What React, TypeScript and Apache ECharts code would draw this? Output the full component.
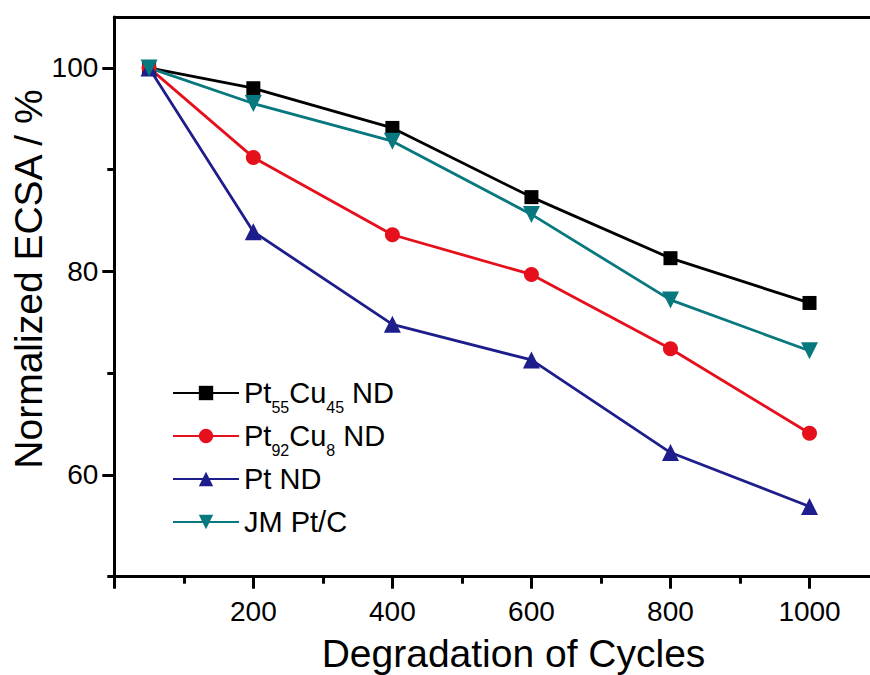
import React, { useEffect, useRef } from 'react';
import * as echarts from 'echarts';

const cycles = [50, 200, 400, 600, 800, 1000];
const pt55Cu45 = [100, 98.0, 94.1, 87.3, 81.3, 76.9];
const pt92Cu8 = [100, 91.2, 83.6, 79.7, 72.4, 64.1];
const ptND = [100, 83.9, 74.8, 71.3, 62.2, 56.9];
const jmPtC = [100, 96.5, 92.8, 85.6, 77.2, 72.2];

const seriesNames = ['Pt55Cu45 ND', 'Pt92Cu8 ND', 'Pt ND', 'JM Pt/C'];
const legendLabels = ['Pt{s|55}Cu{s|45} ND', 'Pt{s|92}Cu{s|8} ND', 'Pt ND{s| }', 'JM Pt/C{s| }'];

const xMajorTicks = [0, 200, 400, 600, 800, 1000];
const xLabels = [200, 400, 600, 800, 1000];
const xMinorTicks = [100, 300, 500, 700, 900];
const yMajorTicks = [60, 80, 100];
const yLabels = [60, 80, 100];
const yMinorTicks = [50, 70, 90];

const xTitle = 'Degradation of Cycles';
const yTitle = 'Normalized ECSA / %';

const FONT = '"Liberation Sans", Arial, Helvetica, sans-serif';

export default function App() {
  const ref = useRef<HTMLDivElement>(null);
  useEffect(() => {
    document.body.style.margin = '0';
    if (!ref.current) return;
    const chart = echarts.init(ref.current, undefined, { renderer: 'svg' });
    const pair = (ys: number[]) => cycles.map((x, i) => [x, ys[i]]);
    const mk = (name: string, ys: number[], color: string, symbol: string, size: number, rotate = 0) => ({
      name,
      type: 'line',
      data: pair(ys),
      symbol,
      symbolSize: size,
      symbolRotate: rotate,
      showAllSymbol: true,
      lineStyle: { color, width: 2.8 },
      itemStyle: { color, borderWidth: 0 },
      emphasis: { disabled: true },
      z: 3,
    });
    const axisTickStyle = { color: '#000', width: 3 };
    const numFmt = (v: number) => String(v);
    chart.setOption({
      animation: false,
      backgroundColor: '#fff',
      textStyle: { fontFamily: FONT },
      grid: {
        left: 114.3,
        top: 17,
        right: 0,
        bottom: 98.3,
        show: false,
        containLabel: false,
      },
      legend: {
        orient: 'vertical',
        left: 172,
        top: 371,
        padding: 0,
        itemWidth: 66,
        itemHeight: 18,
        itemGap: -1,
        data: seriesNames,
        formatter: (name: string) => legendLabels[seriesNames.indexOf(name)],
        textStyle: {
          fontFamily: FONT,
          fontSize: 29,
          color: '#000',
          lineHeight: 30,
          rich: {
            s: { fontFamily: FONT, fontSize: 16, color: '#000', lineHeight: 10, padding: [28, 0, 0, 0] },
          },
        },
      },
      xAxis: [
        {
          type: 'value',
          min: 0,
          max: 1087,
          position: 'bottom',
          axisLine: { show: true, lineStyle: { color: '#000', width: 3 } },
          axisTick: { show: true, inside: false, length: 12, lineStyle: axisTickStyle, customValues: xMajorTicks },
          axisLabel: { show: true, customValues: xLabels, formatter: numFmt, fontSize: 28, color: '#000', fontFamily: FONT, margin: 21 },
          splitLine: { show: false },
        },
        {
          type: 'value',
          min: 0,
          max: 1087,
          position: 'bottom',
          axisLine: { show: false },
          axisTick: { show: true, inside: false, length: 7, lineStyle: axisTickStyle, customValues: xMinorTicks },
          axisLabel: { show: false },
          splitLine: { show: false },
        },
        {
          type: 'value',
          min: 0,
          max: 1087,
          position: 'top',
          axisLine: { show: true, lineStyle: { color: '#000', width: 3 } },
          axisTick: { show: false },
          axisLabel: { show: false },
          splitLine: { show: false },
        },
      ],
      yAxis: [
        {
          type: 'value',
          min: 50,
          max: 105,
          position: 'left',
          axisLine: { show: true, lineStyle: { color: '#000', width: 3 } },
          axisTick: { show: true, inside: false, length: 12, lineStyle: axisTickStyle, customValues: yMajorTicks },
          axisLabel: { show: true, customValues: yLabels, formatter: numFmt, fontSize: 28, color: '#000', fontFamily: FONT, margin: 16 },
          splitLine: { show: false },
        },
        {
          type: 'value',
          min: 50,
          max: 105,
          position: 'left',
          axisLine: { show: false },
          axisTick: { show: true, inside: false, length: 7, lineStyle: axisTickStyle, customValues: yMinorTicks },
          axisLabel: { show: false },
          splitLine: { show: false },
        },
      ],
      graphic: [
        {
          type: 'text',
          x: 513.5,
          y: 653.5,
          silent: true,
          style: { text: xTitle, font: `39px ${FONT}`, fill: '#000', textAlign: 'center', textVerticalAlign: 'middle' },
        },
        {
          type: 'text',
          x: 28.5,
          y: 279,
          rotation: Math.PI / 2,
          silent: true,
          style: { text: yTitle, font: `39px ${FONT}`, fill: '#000', textAlign: 'center', textVerticalAlign: 'middle' },
        },
      ],
      series: [
        mk(seriesNames[0], pt55Cu45, '#000000', 'rect', 14),
        mk(seriesNames[1], pt92Cu8, '#e60f1c', 'circle', 15),
        mk(seriesNames[2], ptND, '#1d1d8c', 'triangle', 17),
        mk(seriesNames[3], jmPtC, '#07787e', 'triangle', 17, 180),
      ],
    });
    return () => chart.dispose();
  }, []);
  return <div ref={ref} style={{ width: 870, height: 675 }} />;
}
